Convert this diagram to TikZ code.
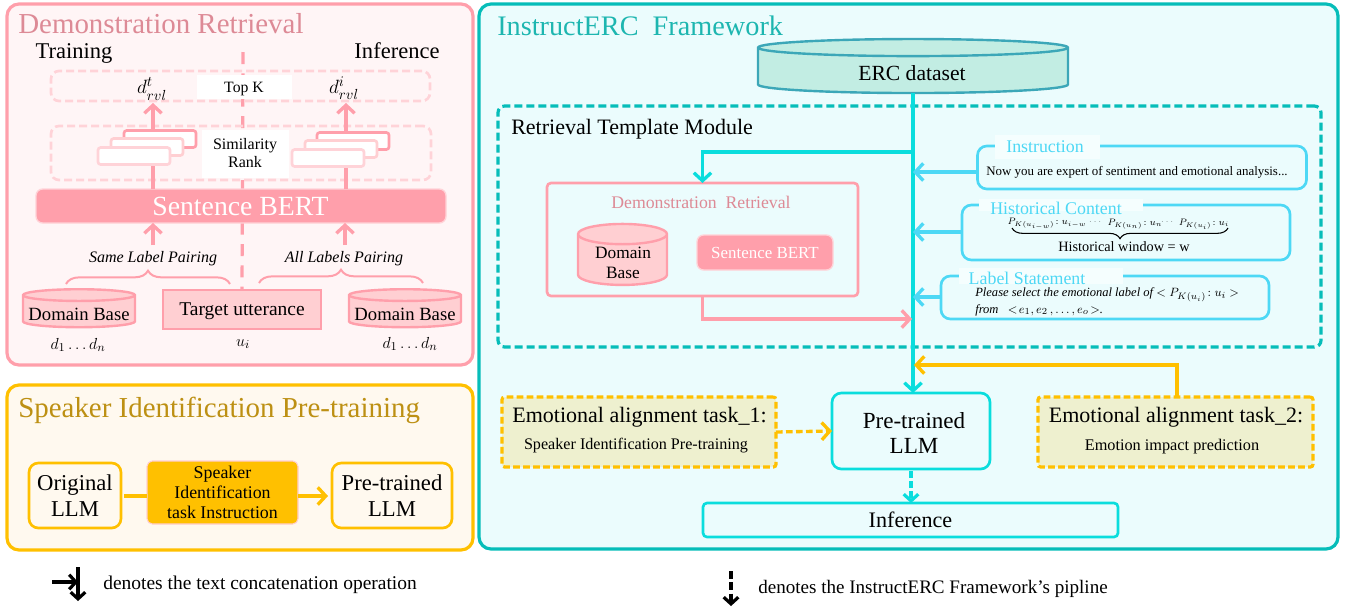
\documentclass[tikz,border=0pt]{standalone}
\usepackage{amsmath}
\usepackage{fontspec}
\setmainfont{Liberation Serif}
\usetikzlibrary{arrows.meta,positioning,shapes.geometric,decorations.pathreplacing}
\definecolor{pinkline}{HTML}{FF9FAB}
\definecolor{pinkpale}{HTML}{FFD3D8}
\definecolor{pinkfill}{HTML}{FFCFD2}
\definecolor{pinktext}{HTML}{DD8A96}
\definecolor{pinkback}{HTML}{FFF5F6}
\definecolor{gold}{HTML}{FFC000}
\definecolor{goldtext}{HTML}{BD9013}
\definecolor{goldback}{HTML}{FFF9EF}
\definecolor{taskfill}{HTML}{EEF0CF}
\definecolor{teal}{HTML}{06BDB9}
\definecolor{tealtext}{HTML}{1DB6B0}
\definecolor{tealback}{HTML}{EBFCFD}
\definecolor{cyanline}{HTML}{0ADDDD}
\definecolor{skyline}{HTML}{4DD8F5}
\definecolor{dbfill}{HTML}{C2EDE3}
\definecolor{dbline}{HTML}{3CA7B8}
\def\px{0.75pt}
\tikzset{
	panel/.style = {draw, line width = 2.4pt, rounded corners = 9pt, outer sep = 0pt},
	box/.style = {draw, line width = 2pt, rounded corners = 7pt, align = center, outer sep = 0pt},
	flatbox/.style = {draw = none, fill = white, outer sep = 0pt},
	dashbox/.style = {draw = pinkpale, dash pattern = on 6pt off 3pt, line width = 2pt, rounded corners = 6pt},
	stackbox/.style = {draw, fill = white, line width = 2pt, rounded corners = 2pt, minimum width = 72*\px, minimum height = 17*\px},
	taskbox/.style = {draw = gold, fill = taskfill, dash pattern = on 5pt off 2.5pt, line width = 2.4pt, rounded corners = 2pt, outer sep = 0pt},
	db/.style = {cylinder, draw, shape border rotate = 90, line width = 1.8pt, outer sep = 0pt, inner sep = 4pt},
	pinkdb/.style = {db, draw = pinkline, fill = pinkfill},
	flow/.style = {-{Straight Barb[length = 6pt, width = 13pt]}, line width = 2.5pt},
	thinflow/.style = {-{Straight Barb[length = 5pt, width = 11pt]}, line width = 2.4pt},
	curly/.style = {decorate, decoration = {brace, amplitude = 10pt}, draw = pinkline, line width = 1.5pt},
	panel title/.style = {anchor = west, inner sep = 0pt, font = \fontsize{21.7}{24}\selectfont},
	small title/.style = {inner sep = 0pt, text = skyline, font = \fontsize{13.4}{15}\selectfont},
	txt/.style = {inner sep = 0pt, align = center, font = \fontsize{14}{18}\selectfont},
	big txt/.style = {inner sep = 0pt, align = center, font = \fontsize{17}{19}\selectfont}
}

\begin{document}
\begin{tikzpicture}[x = 0.75pt, y = -0.75pt]
	\useasboundingbox (0, 0) rectangle (1348, 608);

	% panels
	\node [panel, draw = pinkline, fill = pinkback, minimum width = 466*\px, minimum height = 361*\px] (demoPanel) at (240, 184.5) {};
	\node [panel, draw = gold, fill = goldback, minimum width = 466*\px, minimum height = 165*\px] (speakerPanel) at (240, 467.5) {};
	\node [panel, draw = teal, fill = tealback, minimum width = 859*\px, minimum height = 545*\px] (framePanel) at (908.5, 276.5) {};

	\node [panel title, text = pinktext] (demoTitle) at (18, 24) {Demonstration Retrieval};
	\node [panel title, text = goldtext] (speakerTitle) at (18, 410) {Speaker Identification Pre-training};
	\node [panel title, text = tealtext, font = \fontsize{21.2}{24}\selectfont] (frameTitle) at (497, 26) {InstructERC\ \ Framework};

	% demonstration retrieval
	\node [txt, font = \fontsize{16.9}{19}\selectfont] (training) at (74, 53) {Training};
	\node [txt, font = \fontsize{16.9}{19}\selectfont] (inference) at (397, 51) {Inference};
	\coordinate (splitTop) at (243, 52);
	\node [draw = pinkline, fill = pinkfill, line width = 1pt, minimum width = 158*\px, minimum height = 39*\px, outer sep = 0pt] (target) at (242, 309.5) {};
	\node [txt, font = \fontsize{14.6}{18}\selectfont] (targetText) at (242, 311) {Target utterance};
	\draw [pinkline, line width = 2.4pt, dash pattern = on 9pt off 7pt] (splitTop) -- (target.north);

	\node [dashbox, minimum width = 379*\px, minimum height = 30*\px] (topBand) at (240.5, 86) {};
	\node [dashbox, minimum width = 380*\px, minimum height = 54*\px] (rankBand) at (241, 153) {};
	\node [flatbox, minimum width = 95*\px, minimum height = 24*\px] (topCover) at (244.5, 87) {};
	\node [flatbox, minimum width = 87*\px, minimum height = 48*\px] (rankCover) at (245.5, 154) {};
	\node [txt, font = \fontsize{11.8}{13}\selectfont] (topK) at (244, 89) {Top K};
	\node [txt, font = \fontsize{12}{13.5}\selectfont] (rank) at (245, 153) {Similarity\\Rank};

	\node [draw = pinkpale, fill = pinkline, line width = 1pt, rounded corners = 5pt, minimum width = 410*\px, minimum height = 34*\px, outer sep = 0pt] (sbert) at (241, 206) {};
	\node [txt, text = white, font = \fontsize{20.8}{22}\selectfont] (sbertText) at (240.5, 206) {Sentence BERT};

	\node [inner sep = 0pt, font = \fontsize{15}{17}\selectfont] (dTrain) at (152, 89) {$d_{rvl}^{t}$};
	\node [inner sep = 0pt, font = \fontsize{15}{17}\selectfont] (dInfer) at (344, 88) {$d_{rvl}^{i}$};
	\coordinate (trainLow) at (153, 189);
	\coordinate (trainHigh) at (153, 103);
	\coordinate (inferLow) at (346, 189);
	\coordinate (inferHigh) at (346, 103);
	\draw [flow, pinkline] (trainLow) -- (trainHigh);
	\draw [flow, pinkline] (inferLow) -- (inferHigh);

	% ranked lists
	\foreach \name/\x/\y/\col in {a/160/139/pinkline, b/147/147/pinkfill, c/134/156/pinkpale, d/353/141/pinkline, e/341/149/pinkfill, f/328/158/pinkpale}{
		\node [stackbox, draw = \col] (list\name) at (\x, \y) {};
	}

	\coordinate (sameUp) at (153, 245);
	\coordinate (allUp) at (345, 245);
	\draw [flow, pinkline] (sameUp) -- (sameUp |- sbert.south);
	\draw [flow, pinkline] (allUp) -- (allUp |- sbert.south);
	\node [txt, font = \itshape\fontsize{12}{15}\selectfont] (sameLabel) at (153, 259) {Same Label Pairing};
	\node [txt, font = \itshape\fontsize{12}{15}\selectfont] (allLabels) at (344, 259) {All Labels Pairing};
	\coordinate (sameA) at (66, 284);
	\coordinate (sameB) at (230, 284);
	\coordinate (allA) at (259, 283);
	\coordinate (allB) at (423, 283);
	\draw [curly] (sameA) -- (sameB);
	\draw [curly] (allA) -- (allB);

	\foreach \name/\x in {baseLeft/79, baseRight/405}{
		\node [pinkdb, aspect = 1.1, minimum width = 112*\px, minimum height = 38*\px] (\name) at (\x, 313) {};
		\node [txt] (\name Text) at (\x, 314) {Domain Base};
	}
	\node [inner sep = 0pt, font = \fontsize{13}{15}\selectfont] (dLeft) at (78, 345) {$d_1\dots d_n$};
	\node [inner sep = 0pt, font = \fontsize{13}{15}\selectfont] (uTarget) at (243, 344) {$u_i$};
	\node [inner sep = 0pt, font = \fontsize{13}{15}\selectfont] (dRight) at (410, 344) {$d_1\dots d_n$};

	% speaker identification
	\node [box, big txt, draw = gold, minimum width = 92*\px, minimum height = 65*\px] (original) at (75, 495.5) {Original\\LLM};
	\node [box, draw = pinkfill, fill = gold, line width = 0.8pt, rounded corners = 4pt, align = center, minimum width = 151*\px, minimum height = 63*\px, inner sep = 0pt, font = \fontsize{13.4}{15}\selectfont] (speakerTask) at (222.5, 492.5) {Speaker\\Identification\\task Instruction};
	\node [box, big txt, draw = gold, minimum width = 120*\px, minimum height = 65*\px] (pretrainLeft) at (392, 495.5) {Pre-trained\\LLM};
	\coordinate (speakerLine) at (124, 496);
	\coordinate (speakerHead) at (328, 496);
	\draw [gold, line width = 2.5pt] (speakerLine) -- (speakerLine -| speakerTask.west);
	\draw [flow, gold] (speakerHead -| speakerTask.east) -- (speakerHead);

	% framework
	\node [db, draw = dbline, fill = dbfill, aspect = 1.6, minimum width = 310*\px, minimum height = 54*\px] (erc) at (913, 72) {};
	\node [txt, font = \fontsize{16.2}{18}\selectfont] (ercText) at (912, 73) {ERC dataset};
	\node [draw = teal, dash pattern = on 6pt off 3pt, line width = 2.4pt, rounded corners = 5pt, minimum width = 823*\px, minimum height = 241*\px, outer sep = 0pt] (module) at (909.5, 226.5) {};
	\node [panel title, font = \fontsize{16.5}{18}\selectfont] (moduleTitle) at (511, 129) {Retrieval Template Module};

	\node [box, draw = cyanline, minimum width = 158*\px, minimum height = 76*\px] (pretrain) at (911, 431) {};
	\node [txt, font = \fontsize{17.3}{19}\selectfont] (pretrainText) at (914, 433) {Pre-trained\\LLM};
	\node [box, draw = cyanline, rounded corners = 3pt, font = \fontsize{16.6}{19}\selectfont, minimum width = 415*\px, minimum height = 34*\px] (inferBox) at (910.5, 520) {Inference};
	\draw [flow, cyanline] (erc.south) -- (erc.south |- pretrain.north);
	\coordinate (branch) at (912, 152);
	\node [box, draw = pinkline, rounded corners = 3pt, minimum width = 311*\px, minimum height = 113*\px] (retrieval) at (702.5, 239.5) {};
	\draw [flow, cyanline] (branch) -| (retrieval.north);
	\node [inner sep = 0pt, text = pinktext, font = \fontsize{13.3}{15}\selectfont] (retrievalTitle) at (701, 202) {Demonstration\ \ Retrieval};
	\node [pinkdb, aspect = 1.9, minimum width = 89*\px, minimum height = 61*\px] (smallBase) at (622.5, 262.5) {};
	\node [txt, font = \fontsize{13}{15}\selectfont] (smallBaseText) at (623, 263) {Domain\\Base};
	\node [draw = pinkpale, fill = pinkline, line width = 1pt, rounded corners = 5pt, minimum width = 136*\px, minimum height = 35*\px, outer sep = 0pt] (smallBert) at (765, 252.5) {};
	\node [txt, text = white, font = \fontsize{12.7}{14}\selectfont] (smallBertText) at (765, 253) {Sentence BERT};
	\coordinate (retrievalIn) at (912, 319);
	\draw [flow, pinkline] (retrieval.south) |- (retrievalIn);

	% template parts
	\node [box, draw = skyline, minimum width = 329*\px, minimum height = 43*\px] (instruction) at (1142, 167.5) {};
	\node [box, draw = skyline, minimum width = 328*\px, minimum height = 55*\px] (history) at (1126, 232.5) {};
	\node [box, draw = skyline, minimum width = 328*\px, minimum height = 43*\px] (statement) at (1105, 297.5) {};
	\foreach \name/\y in {instruction/172, history/232, statement/297}{
		\coordinate (\name In) at (913, \y);
		\draw [flow, skyline] (\name In -| \name.west) -- (\name In);
	}
	\node [flatbox, fill = tealback!50!white, minimum width = 105*\px, minimum height = 24*\px] (instructionCover) at (1047.5, 147) {};
	\node [flatbox, fill = tealback!50!white, minimum width = 164*\px, minimum height = 12*\px] (historyCover) at (1061, 205) {};
	\node [flatbox, fill = tealback!50!white, minimum width = 164*\px, minimum height = 16*\px] (statementCover) at (1041, 276) {};
	\node [small title] (instructionTitle) at (1045, 147) {Instruction};
	\node [small title] (historyTitle) at (1056, 208) {Historical Content};
	\node [small title] (statementTitle) at (1027, 278) {Label Statement};
	\node [txt, font = \fontsize{9.7}{12}\selectfont] (instructionText) at (1137, 172) {Now you are expert of sentiment and emotional analysis...};

	\node [inner sep = 0pt, font = \fontsize{7}{9}\selectfont] (histA) at (1047, 224) {$P_{K(u_{i-w})}\!:u_{i-w}$};
	\node [inner sep = 0pt, font = \fontsize{5}{7}\selectfont] (histDotsA) at (1096, 222) {$\cdots$};
	\node [inner sep = 0pt, font = \fontsize{7.5}{9}\selectfont] (histB) at (1135, 224) {$P_{K(u_n)}\!:u_n$};
	\node [inner sep = 0pt, font = \fontsize{5}{7}\selectfont] (histDotsB) at (1168, 222) {$\cdots$};
	\node [inner sep = 0pt, font = \fontsize{7.5}{9}\selectfont] (histC) at (1204, 224) {$P_{K(u_i)}\!:u_i$};
	\coordinate (histLeft) at (1012, 228);
	\coordinate (histRight) at (1228, 228);
	\draw [decorate, decoration = {brace, amplitude = 8pt}, line width = 0.8pt] (histRight) -- (histLeft);
	\node [txt, font = \fontsize{10.7}{13}\selectfont] (histWindow) at (1124, 247) {Historical window = w};

	\node [anchor = west, inner sep = 0pt, font = \itshape\fontsize{9.4}{11}\selectfont] (statementA) at (975, 295) {Please select the emotional label of $<P_{K(u_i)}\!:u_i>$};
	\node [anchor = west, inner sep = 0pt, font = \itshape\fontsize{9.4}{11}\selectfont] (statementB) at (975, 310) {from\ \ \ $<\!e_1, e_2\,, \dots, e_o\!>$.};

	% alignment tasks
	\node [taskbox, minimum width = 274*\px, minimum height = 70*\px] (taskOne) at (639, 432) {};
	\node [txt, font = \fontsize{16.5}{19}\selectfont] (taskOneHead) at (639.5, 417) {Emotional alignment task\_1:};
	\node [txt, font = \fontsize{12.1}{15}\selectfont] (taskOneText) at (636, 446) {Speaker Identification Pre-training};
	\node [taskbox, minimum width = 275*\px, minimum height = 70*\px] (taskTwo) at (1175.5, 432) {};
	\node [txt, font = \fontsize{16.5}{19}\selectfont] (taskTwoHead) at (1176, 417) {Emotional alignment task\_2:};
	\node [txt, font = \fontsize{12.2}{15}\selectfont] (taskTwoText) at (1172, 447) {Emotion impact prediction};
	\draw [flow, gold, dash pattern = on 5pt off 2.5pt] (taskOne.east) -- (pretrain.west);
	\coordinate (taskTwoOut) at (1177, 397);
	\coordinate (taskTwoIn) at (914, 365);
	\draw [flow, gold] (taskTwoOut) |- (taskTwoIn);
	\coordinate (pretrainOut) at (911, 471);
	\draw [thinflow, cyanline, dash pattern = on 5pt off 2.5pt] (pretrainOut) -- (pretrainOut |- inferBox.north);

	% legend
	\coordinate (legendA) at (52, 582);
	\coordinate (legendB) at (78, 582);
	\coordinate (legendC) at (78, 567);
	\coordinate (legendD) at (78, 601);
	\coordinate (legendE) at (731, 571);
	\coordinate (legendF) at (731, 606);
	\draw [thinflow, black] (legendA) -- (legendB);
	\draw [thinflow, black] (legendC) -- (legendD);
	\draw [thinflow, black, dash pattern = on 6pt off 2.5pt] (legendE) -- (legendF);
	\node [anchor = west, txt, font = \fontsize{14.6}{18}\selectfont] (legendLeft) at (103, 585) {denotes the text concatenation operation};
	\node [anchor = west, txt, font = \fontsize{14.3}{18}\selectfont] (legendRight) at (758, 589) {denotes the InstructERC Framework’s pipline};
\end{tikzpicture}
\end{document}
